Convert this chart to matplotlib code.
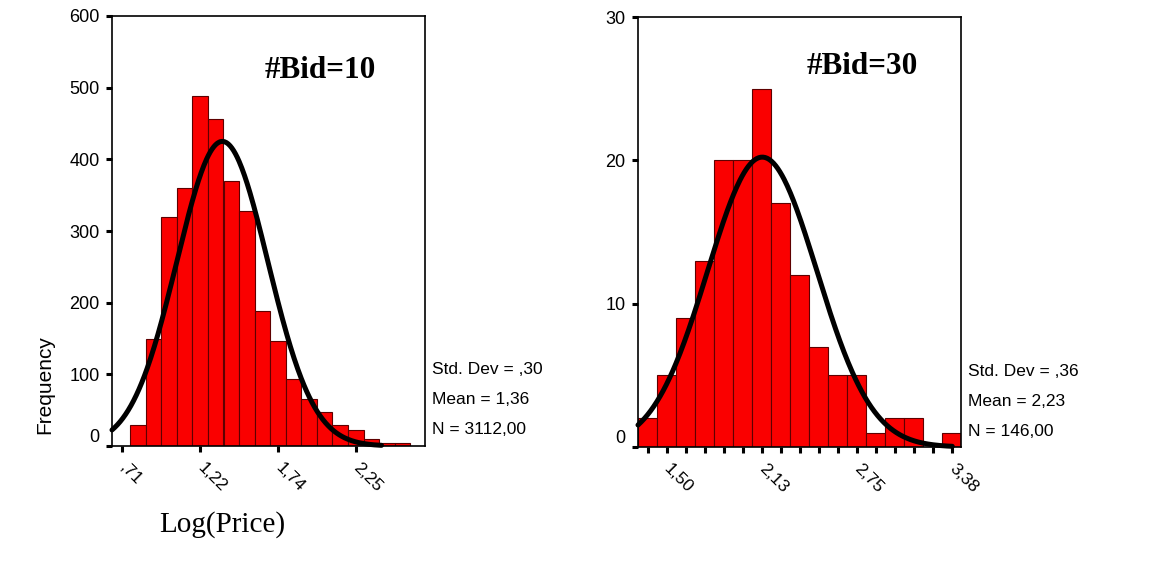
import numpy as np
import matplotlib
matplotlib.use("Agg")
import matplotlib.pyplot as plt

# --- data -------------------------------------------------------------------
bid10_centers = [0.813, 0.915, 1.018, 1.121, 1.223, 1.326, 1.429, 1.531, 1.634,
                 1.737, 1.839, 1.942, 2.045, 2.147, 2.250, 2.353, 2.455, 2.558]
bid10_counts = [30, 150, 319, 360, 488, 456, 370, 328, 188,
                146, 94, 65, 47, 30, 23, 10, 4, 4]
bid10_width = 0.1027
bid10_ticks = [0.710, 1.223, 1.737, 2.250]
bid10_ticklabels = [",71", "1,22", "1,74", "2,25"]
bid10_stats = dict(mean=1.36, sd=0.30, n=3112)
bid10_curve_peak = 1.37      # where the fitted curve peaks on the drawn axis

bid30_centers = [1.375, 1.500, 1.625, 1.750, 1.875, 2.000, 2.125, 2.250, 2.375,
                 2.500, 2.625, 2.750, 2.875, 3.000, 3.125, 3.250, 3.375]
bid30_counts = [2, 5, 9, 13, 20, 20, 25, 17, 12, 7, 5, 5, 1, 2, 2, 0, 1]
bid30_width = 0.125
bid30_ticks = [1.500, 2.125, 2.750, 3.375]
bid30_ticklabels = ["1,50", "2,13", "2,75", "3,38"]
bid30_stats = dict(mean=2.23, sd=0.36, n=146)
bid30_curve_peak = 2.13      # the picture draws the curve over the "2,13" bar

W, H = 1156, 561
SANS = "Liberation Sans"
SERIF = "Liberation Serif"
RED = "#fa0000"
EDGE = "#5e0000"

fig = plt.figure(figsize=(W / 100, H / 100), dpi=100)
fig.patch.set_facecolor("white")


def px(x, y):
    """pixel position (from top-left) -> figure fraction"""
    return x / W, 1 - y / H


def panel(rect, centers, counts, width, stats, peak, xlim, ylim, yticks,
          ticks, ticklabels, minor_ticks, curve_end):
    ax = fig.add_axes(rect)
    ax.bar(centers, counts, width=width, color=RED, edgecolor=EDGE,
           linewidth=0.8, zorder=2)
    # fitted normal curve (scaled to counts)
    xs = np.linspace(xlim[0], curve_end, 300)
    ys = (stats["n"] * width / (stats["sd"] * np.sqrt(2 * np.pi))
          * np.exp(-0.5 * ((xs - peak) / stats["sd"]) ** 2))
    ax.plot(xs, ys, color="black", lw=3.6, zorder=3, clip_on=False,
            solid_capstyle="round")
    ax.set_xlim(*xlim)
    ax.set_ylim(*ylim)
    ax.set_yticks(yticks)
    ax.set_yticklabels([str(v) for v in yticks], fontfamily=SANS, fontsize=13)
    ax.get_yticklabels()[0].set_va("bottom")
    if minor_ticks is not None:
        ax.set_xticks(minor_ticks, minor=True)
    ax.set_xticks(ticks)
    ax.set_xticklabels(ticklabels, rotation=-45, rotation_mode="anchor",
                       ha="left", va="center", fontfamily=SANS, fontsize=12.5)
    ax.tick_params(axis="both", which="both", direction="out", length=4,
                   width=2.2, color="black")
    ax.tick_params(axis="x", which="both", pad=10)
    ax.tick_params(axis="y", pad=5)
    for s in ax.spines.values():
        s.set_linewidth(1.2)
        s.set_color("black")
    ax.set_facecolor("white")
    return ax


panel([112 / W, 1 - 446 / H, 313 / W, 430 / H],
      bid10_centers, bid10_counts, bid10_width, bid10_stats, bid10_curve_peak,
      (0.642, 2.707), (0, 600), [0, 100, 200, 300, 400, 500, 600],
      bid10_ticks, bid10_ticklabels, None, 2.42)

panel([638 / W, 1 - 447 / H, 323 / W, 430 / H],
      bid30_centers, bid30_counts, bid30_width, bid30_stats, bid30_curve_peak,
      (1.3125, 3.4375), (0, 30), [0, 10, 20, 30],
      bid30_ticks, bid30_ticklabels, bid30_centers, 3.38)

# titles inside panels
fig.text(*px(320, 70), "#Bid=10", ha="center", va="center",
         fontfamily=SERIF, fontweight="bold", fontsize=22.5)
fig.text(*px(862, 66), "#Bid=30", ha="center", va="center",
         fontfamily=SERIF, fontweight="bold", fontsize=22.5)

# summary statistics beside each panel
for x0, ys, st in [(432, (370, 400, 430), ("Std. Dev = ,30", "Mean = 1,36", "N = 3112,00")),
                   (968, (371, 401, 431), ("Std. Dev = ,36", "Mean = 2,23", "N = 146,00"))]:
    for y, s in zip(ys, st):
        fig.text(*px(x0, y), s, ha="left", va="center",
                 fontfamily=SANS, fontsize=12.5)

fig.text(*px(45, 385), "Frequency", rotation=90, ha="center", va="center",
         fontfamily=SANS, fontsize=15)
fig.text(*px(222, 525), "Log(Price)", ha="center", va="center",
         fontfamily=SERIF, fontsize=21)

fig.savefig("out.png", dpi=100, facecolor="white")
